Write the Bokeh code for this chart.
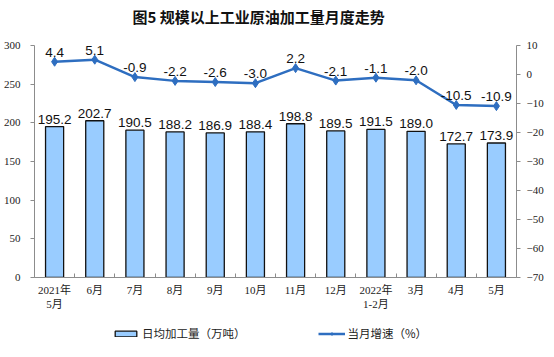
from bokeh.plotting import figure
from bokeh.layouts import column
from bokeh.models import (Range1d, LinearAxis, FixedTicker, Legend, LegendItem,
                          ColumnDataSource, LabelSet, Label)
from bokeh.core.properties import value
from bokeh.embed import file_html
from bokeh.resources import INLINE

title_text = "图5 规模以上工业原油加工量月度走势"
months = ["2021年\n5月", "6月", "7月", "8月", "9月", "10月", "11月", "12月",
          "2022年\n1-2月", "3月", "4月", "5月"]
output = [195.2, 202.7, 190.5, 188.2, 186.9, 188.4, 198.8, 189.5, 191.5, 189.0, 172.7, 173.9]
growth = [4.4, 5.1, -0.9, -2.2, -2.6, -3.0, 2.2, -2.1, -1.1, -2.0, -10.5, -10.9]
left_ticks = [0, 50, 100, 150, 200, 250, 300]
right_ticks = [-70, -60, -50, -40, -30, -20, -10, 0, 10]
legend_bar = "日均加工量（万吨）"
legend_line = "当月增速（%）"

BAR_FILL = "#99CCFF"
BAR_LINE = "#111111"
LINE_C = "#2E6EC0"
AX = "#8c8c8c"
TXT = "#222222"
W = 546


def strip(h, xr, yr):
    f = figure(width=W, height=h, x_range=xr, y_range=yr,
               output_backend="svg", toolbar_location=None,
               x_axis_location=None, y_axis_location=None,
               min_border_left=0, min_border_right=0, min_border_top=0, min_border_bottom=0)
    f.outline_line_color = None
    f.xgrid.visible = False
    f.ygrid.visible = False
    return f


idx = list(range(len(months)))
src = ColumnDataSource(dict(
    x=idx, output=output, growth=growth,
    out_txt=[f"{v:.1f}" for v in output],
    gr_txt=[f"{v:.1f}" for v in growth],
))

# title strip
ts = strip(30, Range1d(0, W), Range1d(0, 30))
ts.add_layout(Label(x=254, y=14, text=title_text, text_align="center",
                    text_baseline="middle", text_font="Noto Sans CJK SC",
                    text_font_size="15px", text_font_style="bold", text_color="#111111"))

n = len(months)
p = figure(width=W, height=282, x_range=Range1d(-0.5, n - 0.5),
           y_range=Range1d(left_ticks[0], left_ticks[-1]),
           output_backend="svg", toolbar_location=None,
           min_border_left=34, min_border_right=23, min_border_top=15, min_border_bottom=35)
p.outline_line_color = None
p.xgrid.visible = False
p.ygrid.visible = False
p.extra_y_ranges = {"right": Range1d(right_ticks[0], right_ticks[-1])}

# left axis
ya = p.yaxis[0]
ya.ticker = FixedTicker(ticks=left_ticks)
ya.axis_line_color = AX
ya.major_tick_line_color = AX
ya.major_tick_out = 4
ya.major_tick_in = 0
ya.minor_tick_line_color = None
ya.major_label_standoff = 10
ya.major_label_text_font = "Liberation Serif"
ya.major_label_text_font_size = "11px"
ya.major_label_text_color = TXT

# right axis
ra = LinearAxis(y_range_name="right", ticker=FixedTicker(ticks=right_ticks))
ra.axis_line_color = AX
ra.major_tick_line_color = AX
ra.major_tick_out = 4
ra.major_tick_in = 0
ra.minor_tick_line_color = None
ra.major_label_standoff = 6
ra.major_label_text_font = "Liberation Serif"
ra.major_label_text_font_size = "11px"
ra.major_label_text_color = TXT
p.add_layout(ra, "right")

# x axis
xa = p.xaxis[0]
xa.ticker = FixedTicker(ticks=idx, minor_ticks=[i - 0.5 for i in range(n + 1)])
xa.major_label_overrides = {i: m for i, m in zip(idx, months)}
xa.axis_line_color = AX
xa.major_tick_in = 0
xa.major_tick_out = 0
xa.minor_tick_in = 4
xa.minor_tick_out = 0
xa.minor_tick_line_color = AX
xa.major_label_standoff = 6
xa.major_label_text_font = "Liberation Serif, Noto Sans CJK SC"
xa.major_label_text_font_size = "11px"
xa.major_label_text_color = TXT

p.vbar(x="x", top="output", width=0.45, source=src,
       fill_color=BAR_FILL, line_color=BAR_LINE, line_width=1.3)
p.line(x="x", y="growth", source=src, y_range_name="right",
       line_color=LINE_C, line_width=2.5)
p.scatter(x="x", y="growth", source=src, y_range_name="right",
          marker="diamond", size=9, fill_color=LINE_C, line_color=LINE_C)

p.add_layout(LabelSet(x="x", y="output", text="out_txt", source=src,
                      y_offset=3, text_align="center", text_baseline="alphabetic",
                      text_font=value("Liberation Sans"), text_font_size=value("13.5px"),
                      text_color="#111111"))
p.add_layout(LabelSet(x="x", y="growth", text="gr_txt", source=src, y_range_name="right",
                      y_offset=5, text_align="center", text_baseline="alphabetic",
                      text_font=value("Liberation Sans"), text_font_size=value("13.5px"),
                      text_color="#111111"))

# legend strip: same data, renderers hidden; only their legend glyphs show
lg = strip(29, Range1d(500, 501), Range1d(5000, 5001))
r_bar = lg.vbar(x="x", top="output", width=0.45, source=src,
                fill_color=BAR_FILL, line_color=BAR_LINE, line_width=1.3, visible=False)
r_line = lg.line(x="x", y="growth", source=src, line_color=LINE_C, line_width=2.5,
                 visible=False)
r_pts = lg.scatter(x="x", y="growth", source=src, marker="diamond", size=7,
                   fill_color=LINE_C, line_color=LINE_C, visible=False)
legend = Legend(items=[LegendItem(label=legend_bar, renderers=[r_bar]),
                       LegendItem(label=legend_line, renderers=[r_line, r_pts])],
                orientation="horizontal", location=(78, 0),
                border_line_color=None, background_fill_alpha=0,
                inactive_fill_alpha=0,
                glyph_width=27, glyph_height=7, label_height=12,
                label_text_font="Noto Sans CJK SC", label_text_font_size="11.5px",
                label_text_color=TXT, spacing=72, label_standoff=3,
                padding=0, margin=0)
lg.add_layout(legend, "center")

layout = column(ts, p, lg, spacing=0)
open("out.html", "w").write(file_html(layout, INLINE))
